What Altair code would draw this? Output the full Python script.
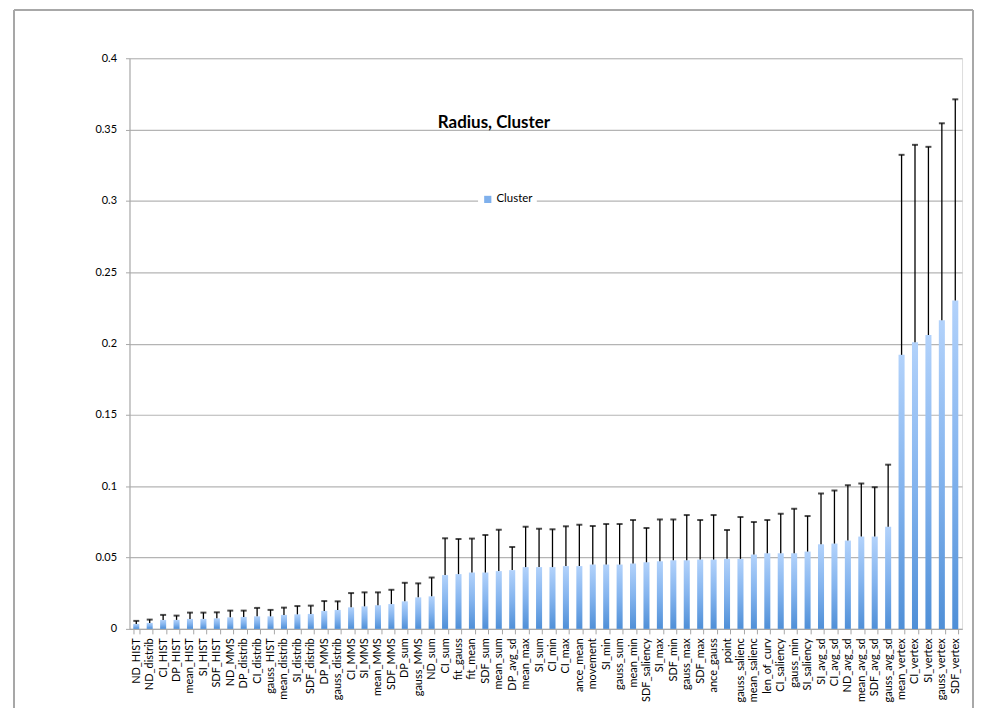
import altair as alt
import pandas as pd

labels = ["ND_HIST", "ND_distrib", "CI_HIST", "DP_HIST", "mean_HIST", "SI_HIST", "SDF_HIST",
          "ND_MMS", "DP_distrib", "CI_distrib", "gauss_HIST", "mean_distrib", "SI_distrib",
          "SDF_distrib", "DP_MMS", "gauss_distrib", "CI_MMS", "SI_MMS", "mean_MMS",
          "SDF_MMS", "DP_sum", "gauss_MMS", "ND_sum", "CI_sum", "fit_gauss", "fit_mean",
          "SDF_sum", "mean_sum", "DP_avg_sd", "mean_max", "SI_sum", "CI_min", "CI_max",
          "ance_mean", "movement", "SI_min", "gauss_sum", "mean_min", "SDF_saliency",
          "SI_max", "SDF_min", "gauss_max", "SDF_max", "ance_gauss", "point",
          "gauss_salienc", "mean_salienc", "len_of_curv", "CI_saliency", "gauss_min",
          "SI_saliency", "SI_avg_sd", "CI_avg_sd", "ND_avg_sd", "mean_avg_sd", "SDF_avg_sd",
          "gauss_avg_sd", "mean_vertex", "CI_vertex", "SI_vertex", "gauss_vertex", "SDF_vertex"]

values = [0.0035, 0.0042, 0.0063, 0.0063, 0.0070, 0.0070, 0.0074, 0.0081, 0.0084, 0.0088,
          0.0088, 0.0098, 0.0102, 0.0105, 0.0126, 0.0133, 0.0151, 0.0158, 0.0166,
          0.0174, 0.0193, 0.0221, 0.0228, 0.0377, 0.0384, 0.0395, 0.0395, 0.0405, 0.0412,
          0.0433, 0.0433, 0.0433, 0.0440, 0.0440, 0.0451, 0.0451, 0.0451, 0.0458, 0.0467,
          0.0474, 0.0481,
          0.0481, 0.0486, 0.0486, 0.0491, 0.0491, 0.0521, 0.0530, 0.0530, 0.0530, 0.0542,
          0.0593, 0.0598, 0.0619, 0.0647, 0.0647, 0.0716,
          0.1921, 0.2009, 0.2060, 0.2163, 0.2302]

error_top = [0.0056, 0.0065, 0.0098, 0.0093, 0.0114, 0.0114, 0.0116, 0.0128, 0.0128, 0.0147,
             0.0133, 0.0149, 0.0160, 0.0163, 0.0195, 0.0193, 0.0251, 0.0256, 0.0256,
             0.0274, 0.0323, 0.0319, 0.0360, 0.0635, 0.0630, 0.0633, 0.0658, 0.0695, 0.0574,
             0.0716, 0.0702, 0.0698, 0.0719, 0.0730, 0.0721, 0.0735, 0.0735, 0.0763, 0.0707,
             0.0767, 0.0767,
             0.0798, 0.0763, 0.0798, 0.0693, 0.0784, 0.0749, 0.0763, 0.0807, 0.0842, 0.0791,
             0.0949, 0.0970, 0.1007, 0.1019, 0.0993, 0.1151,
             0.3323, 0.3393, 0.3379, 0.3544, 0.3712]

y_ticks = [0, 0.05, 0.1, 0.15, 0.2, 0.25, 0.3, 0.35, 0.4]

df = pd.DataFrame({"label": labels, "value": values, "top": error_top,
                   "series": ["Cluster"] * len(labels)})

FONT = "Lato"
W, H = 836, 573

x = alt.X("label:N", sort=labels, title=None,
          scale=alt.Scale(paddingInner=0.55, paddingOuter=0.28),
          axis=alt.Axis(labelAngle=-90, labelFontSize=11, labelFont=FONT, labelColor="#000",
                        domainColor="#a6a6a6", tickColor="#a6a6a6", tickSize=5,
                        tickBand="extent", labelPadding=4, grid=False))
y = alt.Y("value:Q", title=None,
          scale=alt.Scale(domain=[0, 0.4], nice=False),
          axis=alt.Axis(values=y_ticks, format="~g", labelFontSize=11, labelFont=FONT,
                        labelColor="#000", domainColor="#a6a6a6", tickColor="#a6a6a6",
                        tickSize=4, labelPadding=9, gridColor="#b4b4b4", gridWidth=1.2))

grad = alt.Gradient(gradient="linear",
                    stops=[alt.GradientStop(color="#b2d2fb", offset=0),
                           alt.GradientStop(color="#84b4ee", offset=0.5),
                           alt.GradientStop(color="#4f8fd7", offset=1)],
                    x1=0, x2=0, y1=0, y2=1)

base = alt.Chart(df)

bars = base.mark_bar(color=grad).encode(x=x, y=y)

err = base.mark_rule(color="#000", strokeWidth=1.3).encode(
    x=alt.X("label:N", sort=labels), y="value:Q", y2="top:Q")

caps = base.mark_tick(color="#000", thickness=2, size=6).encode(
    x=alt.X("label:N", sort=labels), y="top:Q")

legend_layer = base.mark_square(opacity=0, size=1).encode(
    x=alt.X("label:N", sort=labels), y="value:Q",
    color=alt.Color("series:N", scale=alt.Scale(range=["#7fb0ec"]),
                    legend=alt.Legend(title=None, orient="none", legendX=350, legendY=132,
                                      symbolType="square", symbolSize=52, symbolOpacity=1,
                                      symbolStrokeWidth=0, labelFont=FONT, labelFontSize=11.5,
                                      labelColor="#000", fillColor="white", padding=4,
                                      labelOffset=3)))

frame_col = "#a8a8a8"
frame_left = alt.Chart(df).mark_rule(color=frame_col, strokeWidth=1.5).encode(
    x=alt.value(-116), y=alt.value(-48.5), y2=alt.value(656))
frame_top = alt.Chart(df).mark_rule(color=frame_col, strokeWidth=1.5).encode(
    x=alt.value(-116), x2=alt.value(847), y=alt.value(-48.5))
frame_right = alt.Chart(df).mark_rule(color=frame_col, strokeWidth=1.5).encode(
    x=alt.value(847), y=alt.value(-48.5), y2=alt.value(700))
frame_bl = alt.Chart(df).mark_rule(color=frame_col, strokeWidth=1.5).encode(
    x=alt.value(-130), x2=alt.value(-116), y=alt.value(656))

chart = alt.layer(frame_left, frame_top, frame_right, frame_bl,
                  bars, err, caps, legend_layer).properties(
    width=W, height=H,
    title=alt.TitleParams("Radius, Cluster", anchor="middle", frame="group", offset=-72,
                          dy=51, dx=-52, font=FONT, fontSize=17, fontWeight="bold",
                          color="#000"),
    autosize=alt.AutoSizeParams(type="none"),
    padding={"left": 122, "top": 49, "right": 14, "bottom": 78},
).configure_view(stroke=None).configure(background="white")

chart.save("out.html", embed_options={"renderer": "svg", "actions": False})
